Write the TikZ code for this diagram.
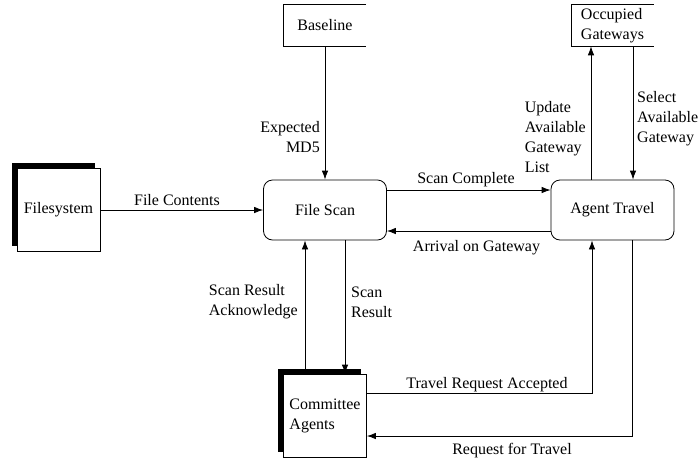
\documentclass[tikz,border=0pt]{standalone}
\usepackage{fontspec}
\setmainfont{Liberation Serif}
\usetikzlibrary{arrows.meta, positioning, shadows}
\tikzset{
	flow/.style={draw, line width=0.8pt, -{Latex[length=9pt, width=6.5pt]}},
	proc/.style={draw, line width=0.8pt, rounded corners=9pt, minimum width=123pt, minimum height=60pt},
	entity/.style={draw, line width=0.8pt, fill=white, minimum width=83pt, minimum height=83pt, align=left,
		general shadow={shadow xshift=-5.5pt, shadow yshift=5.5pt, fill=black}},
	store/.style={minimum width=82pt, minimum height=41pt, align=left},
	lbl/.style={inner sep=0pt, align=left}
}
\newcommand{\storebox}[1]{
	\draw[line width=0.8pt](#1.north east)--(#1.north west)--(#1.south west)--(#1.south east)
}

\begin{document}
\begin{tikzpicture}[x=1pt, y=-1pt, every node/.style={font=\fontsize{16}{20}\selectfont}]
		\useasboundingbox (0,0) rectangle (699,464);
		% processes
		\node[proc] (scan) at (325,210) {File Scan};
		\node[proc] (travel) at (612.5,210) {Agent Travel};
		% external entities
		\node[entity] (fs) at (58.5,210) {Filesystem};
		\node[entity] (comm) at (325,415.5) {Committee\\Agents};
		% data stores
		\node[store] (base) at (325,25.5) {Baseline};
		\node[store] (gate) at (612.5,25.5) {Occupied\\Gateways};
		\storebox{base};
		\storebox{gate};
		% flows
		\draw[flow](fs)--(scan);
		\node[lbl] (lcont) at (177,200) {File Contents};
		\draw[flow](base)--(scan);
		\node[lbl, anchor=east, align=right] (lmd5) at (320,137) {Expected\\MD5};
		\draw[flow]([yshift=20pt]scan.east)--([yshift=20pt]travel.west);
		\node[lbl] (ldone) at (466,180) {Scan Complete};
		\draw[flow]([yshift=-21pt]travel.west)--([yshift=-21pt]scan.east);
		\node[lbl] (larr) at (476.5,248) {Arrival on Gateway};
		\draw[flow]([xshift=-21.5pt]travel.north)--([xshift=-21.5pt]gate.south);
		\node[lbl, anchor=east] (lupd) at (586,137) {Update\\Available\\Gateway\\List};
		\draw[flow]([xshift=20.5pt]gate.south)--([xshift=20.5pt]travel.north);
		\node[lbl, anchor=west] (lsel) at (637,119) {Select\\Available\\Gateway};
		\draw[flow]([xshift=20pt]scan.south)--([xshift=20pt]comm.north);
		\node[lbl, anchor=west] (lres) at (351,302) {Scan\\Result};
		\draw[flow]([xshift=-20pt]comm.north)--([xshift=-20pt]scan.south);
		\node[lbl, anchor=east] (lack) at (298,302) {Scan Result\\Acknowledge};
		\draw[flow]([yshift=22.5pt]comm.east)-|([xshift=-20.5pt]travel.south);
		\node[lbl] (lacc) at (487,385) {Travel Request Accepted};
		\draw[flow]([xshift=19.5pt]travel.south)|-([yshift=-20.5pt]comm.east);
		\node[lbl] (lreq) at (512,451) {Request for Travel};
	\end{tikzpicture}
\end{document}
